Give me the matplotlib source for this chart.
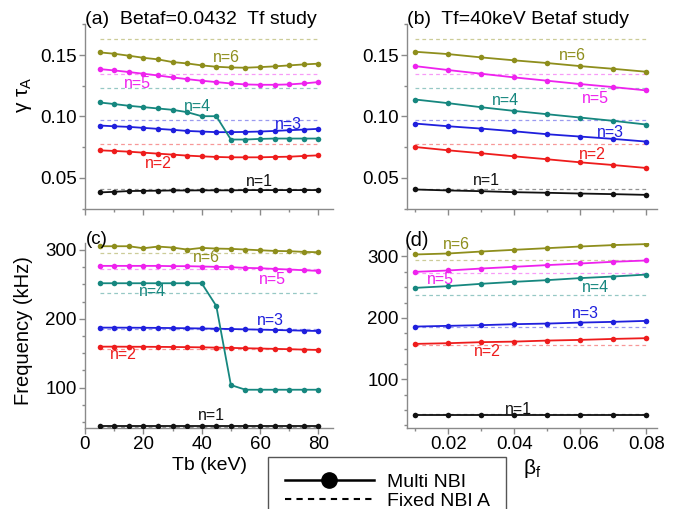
import matplotlib.pyplot as plt
from matplotlib.lines import Line2D
from matplotlib.ticker import MultipleLocator

plt.rcParams['font.family'] = ['Liberation Sans', 'DejaVu Sans']
plt.rcParams['mathtext.fontset'] = 'custom'
plt.rcParams['mathtext.rm'] = 'Liberation Sans'
plt.rcParams['mathtext.it'] = 'Liberation Sans:italic'

# scan variables
tb = [5, 10, 15, 20, 25, 30, 35, 40, 45, 50, 55, 60, 65, 70, 75, 80]
betaf = [0.01, 0.02, 0.03, 0.04, 0.05, 0.06, 0.07, 0.08]
modes = ['n=1', 'n=2', 'n=3', 'n=4', 'n=5', 'n=6']

# growth rate (gamma*tau_A) vs Tb, one row per n
gamma_tb = [
    [0.0381, 0.0386, 0.0392, 0.0394, 0.0395, 0.0397, 0.0397, 0.0398,
     0.0398, 0.0398, 0.0400, 0.0400, 0.0400, 0.0400, 0.0400, 0.0400],
    [0.0724, 0.0719, 0.0713, 0.0705, 0.0697, 0.0689, 0.0681, 0.0675,
     0.0670, 0.0667, 0.0667, 0.0667, 0.0670, 0.0672, 0.0678, 0.0683],
    [0.0926, 0.0920, 0.0915, 0.0907, 0.0899, 0.0891, 0.0882, 0.0877,
     0.0872, 0.0872, 0.0874, 0.0877, 0.0882, 0.0888, 0.0893, 0.0899],
    [0.1114, 0.1101, 0.1087, 0.1076, 0.1065, 0.1054, 0.1035, 0.1002,
     0.1002, 0.0812, 0.0812, 0.0817, 0.0820, 0.0820, 0.0820, 0.0820],
    [0.1386, 0.1375, 0.1362, 0.1348, 0.1334, 0.1318, 0.1304, 0.1291,
     0.1280, 0.1269, 0.1261, 0.1258, 0.1258, 0.1261, 0.1269, 0.1280],
    [0.1522, 0.1511, 0.1495, 0.1478, 0.1465, 0.1443, 0.1432, 0.1416,
     0.1405, 0.1399, 0.1397, 0.1402, 0.1408, 0.1416, 0.1424, 0.1430],
]

# growth rate vs beta_f
gamma_bf = [
    [0.0405, 0.0397, 0.0391, 0.0383, 0.0378, 0.0372, 0.0367, 0.0361],
    [0.0751, 0.0724, 0.0700, 0.0675, 0.0651, 0.0626, 0.0604, 0.0580],
    [0.0942, 0.0920, 0.0901, 0.0879, 0.0855, 0.0836, 0.0817, 0.0795],
    [0.1138, 0.1108, 0.1075, 0.1045, 0.1018, 0.0991, 0.0964, 0.0934],
    [0.1410, 0.1378, 0.1348, 0.1318, 0.1291, 0.1264, 0.1239, 0.1212],
    [0.1527, 0.1508, 0.1481, 0.1457, 0.1435, 0.1410, 0.1388, 0.1364],
]

# mode frequency (kHz) vs Tb
freq_tb = [
    [44, 44, 44, 44, 44, 44, 44, 44, 44, 44, 44, 44, 44, 44, 44, 44],
    [159.6, 159.6, 159.5, 159.4, 159.3, 159.1, 158.9, 158.6,
     158.2, 157.8, 157.3, 156.9, 156.4, 155.9, 155.3, 154.8],
    [187.2, 187.2, 187.1, 187.0, 186.8, 186.6, 186.3, 186.0,
     185.6, 185.2, 184.7, 184.3, 183.8, 183.3, 182.8, 182.3],
    [251.6, 251.6, 251.6, 251.6, 251.6, 251.6, 251.6, 251.6,
     218.6, 103.9, 97.1, 97.1, 97.1, 97.1, 97.1, 97.1],
    [276.8, 276.8, 276.8, 276.8, 276.8, 276.4, 276.4, 275.9,
     275.4, 274.9, 273.9, 273.4, 272.4, 271.5, 270.5, 269.5],
    [305.3, 305.3, 305.3, 302.4, 304.8, 303.4, 300.5, 302.9,
     301.9, 301.5, 300.5, 299.5, 298.5, 298.1, 297.1, 296.6],
]

# mode frequency (kHz) vs beta_f
freq_bf = [
    [42, 42, 42, 42, 42, 42, 42, 42],
    [157.6, 158.7, 160.4, 161.3, 163.0, 164.1, 165.7, 166.9],
    [185.8, 187.0, 188.1, 189.7, 190.7, 192.3, 193.5, 195.1],
    [248.9, 251.7, 255.5, 258.7, 261.5, 264.8, 267.4, 270.6],
    [275.0, 277.2, 280.4, 283.2, 286.0, 288.6, 291.4, 293.5],
    [303.3, 304.9, 308.1, 310.9, 313.6, 316.3, 318.6, 320.2],
]

# single fixed NBI A reference values
gamma_fixed = [0.0410, 0.0775, 0.0970, 0.1230, 0.1345, 0.1635]
freq_fixed = [43, 156.5, 185, 237, 272.5, 295]

colors = ['#111111', '#ee1c1c', '#1f1fdd', '#16877f', '#ee22ee', '#8e8e1c']

# where the n= tags go, per panel
tag_a = [(59.7, 0.0473), (25.2, 0.0615), (69.8, 0.0936), (38.7, 0.1083), (17.9, 0.1269), (48.4, 0.1481)]
tag_b = [(0.0317, 0.0479), (0.0635, 0.0689), (0.0691, 0.0873), (0.0373, 0.1132), (0.0645, 0.1146), (0.0575, 0.1500)]
tag_c = [(43.5, 59), (13.0, 147.5), (63.6, 196.9), (23.3, 239.4), (64.2, 256.4), (41.6, 288.8)]
tag_d = [(0.0413, 51), (0.0317, 145), (0.0615, 206.5), (0.0645, 250), (0.0176, 263), (0.0226, 319)]

W, H = 679, 509
fig = plt.figure(figsize=(W / 100, H / 100), dpi=100)


def box(l, r, t, b):
    return [l / W, 1 - b / H, (r - l) / W, (b - t) / H]


ax_a = fig.add_axes(box(85, 333, 24.4, 208.5))
ax_b = fig.add_axes(box(407, 657, 24.4, 208.5))
ax_c = fig.add_axes(box(85, 333, 243, 427.7))
ax_d = fig.add_axes(box(407, 657, 243, 427.7))

panels = [
    (ax_a, tb, gamma_tb, gamma_fixed, tag_a),
    (ax_b, betaf, gamma_bf, gamma_fixed, tag_b),
    (ax_c, tb, freq_tb, freq_fixed, tag_c),
    (ax_d, betaf, freq_bf, freq_fixed, tag_d),
]

spine_col = '#8a8a8a'
for ax, x, rows, fixed, tags in panels:
    for i in range(6):
        ax.plot([x[0], x[-1]], [fixed[i], fixed[i]], color=colors[i], lw=0.9,
                alpha=0.45, dashes=(3, 2.5), zorder=1)
    for i in range(6):
        ax.plot(x, rows[i], color=colors[i], lw=1.3, marker='o', ms=4,
                mec='none', zorder=3)
        ax.text(tags[i][0], tags[i][1], modes[i], color=colors[i], fontsize=11.5,
                ha='center', va='center', zorder=4)
    for s in ['top', 'right']:
        ax.spines[s].set_visible(False)
    for s in ['left', 'bottom']:
        ax.spines[s].set_color(spine_col)
        ax.spines[s].set_linewidth(1.0)
    ax.tick_params(which='major', direction='out', length=4, width=1,
                   color=spine_col, labelsize=13.5, pad=2)
    ax.tick_params(which='minor', direction='out', length=2.5, width=1,
                   color=spine_col)
    ax.patch.set_alpha(0)

for ax in (ax_a, ax_c):
    ax.set_xlim(0, 85)
    ax.xaxis.set_major_locator(MultipleLocator(20))
    ax.xaxis.set_minor_locator(MultipleLocator(10))
for ax in (ax_b, ax_d):
    ax.set_xlim(0.0075, 0.0832)
    ax.xaxis.set_major_locator(MultipleLocator(0.02))
    ax.xaxis.set_minor_locator(MultipleLocator(0.01))
for ax in (ax_a, ax_b):
    ax.set_ylim(0.025, 0.175)
    ax.yaxis.set_major_locator(MultipleLocator(0.05))
    ax.yaxis.set_minor_locator(MultipleLocator(0.025))
    ax.tick_params(axis='x', labelbottom=False)
    ax.yaxis.set_major_formatter(plt.FormatStrFormatter('%.2f'))
ax_c.set_ylim(42, 310)
ax_d.set_ylim(21, 322)
for ax in (ax_c, ax_d):
    ax.yaxis.set_major_locator(MultipleLocator(100))
    ax.yaxis.set_minor_locator(MultipleLocator(25))
ax_d.xaxis.set_major_formatter(plt.FormatStrFormatter('%.2f'))

ax_c.set_xlabel('Tb (keV)', fontsize=14, labelpad=3)
ax_d.set_xlabel(r'$\mathrm{β_f}$', fontsize=15, labelpad=3)

fig.text(24 / W, 1 - 95 / H, r'$\mathrm{γ\ τ_A}$', rotation=90, fontsize=15,
         ha='center', va='center')
fig.text(24 / W, 1 - 331 / H, 'Frequency (kHz)', rotation=90, fontsize=14.5,
         ha='center', va='center')

fig.text(85 / W, 1 - 19 / H, '(a)  Betaf=0.0432  Tf study', fontsize=14,
         ha='left', va='center')
fig.text(407 / W, 1 - 19 / H, '(b)  Tf=40keV Betaf study', fontsize=14,
         ha='left', va='center')
fig.text(86 / W, 1 - 240 / H, '(c)', fontsize=13.5, ha='left', va='center')
fig.text(405 / W, 1 - 240 / H, '(d)', fontsize=14.5, ha='left', va='center')

handles = [Line2D([], [], color='k', lw=1.8, marker='o', ms=11),
           Line2D([], [], color='k', lw=1.5, dashes=(3, 2.5))]
fig.legend(handles, ['Multi NBI', 'Fixed NBI A'], loc='upper left',
           bbox_to_anchor=(268 / W, 1 - 457 / H), frameon=True, fancybox=False,
           edgecolor='#555555', fontsize=14, handlelength=4.6, handletextpad=0.65,
           borderpad=0.85, labelspacing=0.05, borderaxespad=0, framealpha=1)

fig.savefig('out.png', dpi=100)
